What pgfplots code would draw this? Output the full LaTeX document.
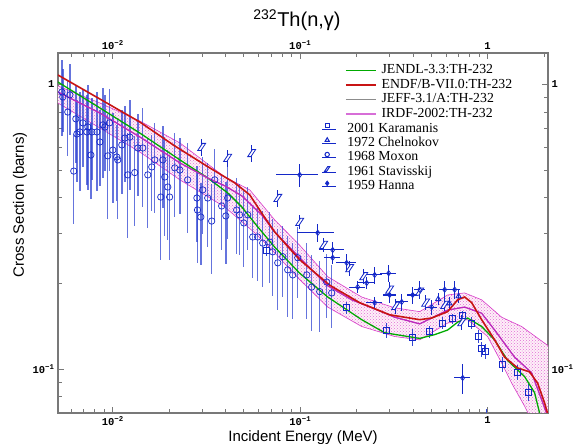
\documentclass[border=0pt]{standalone}
\usepackage{fontspec}
\setmainfont{Liberation Serif}
\setsansfont{Liberation Sans}
\setmonofont{Liberation Mono}
\usepackage{pgfplots}
\pgfplotsset{compat=1.18}
\usepackage{pgfplotstable}
\usepgfplotslibrary{fillbetween}
\usetikzlibrary{patterns}

\definecolor{jgreen}{RGB}{0,170,0}
\definecolor{ered}{RGB}{200,20,20}
\definecolor{jgrey}{RGB}{140,140,140}
\definecolor{irdf}{RGB}{190,40,190}
\definecolor{irdfl}{RGB}{215,110,215}
\definecolor{bandc}{RGB}{215,60,200}
\definecolor{dblue}{RGB}{20,40,200}
\definecolor{eblue}{RGB}{50,70,210}
\definecolor{axgray}{RGB}{120,120,120}

\pgfdeclareplotmark{stav}{%
  \pgfpathmoveto{\pgfpoint{-1.0\pgfplotmarksize}{-0.9\pgfplotmarksize}}%
  \pgfpathlineto{\pgfpoint{-0.2\pgfplotmarksize}{-0.9\pgfplotmarksize}}%
  \pgfpathlineto{\pgfpoint{1.0\pgfplotmarksize}{0.9\pgfplotmarksize}}%
  \pgfpathlineto{\pgfpoint{0.2\pgfplotmarksize}{0.9\pgfplotmarksize}}%
  \pgfpathclose\pgfusepathqfillstroke}

\newcommand\tl[1]{10\textsuperscript{#1}}

% evaluated curves
\pgfplotstableread{
E s
0.00509 1.080
0.00853 0.889
0.01393 0.738
0.0214 0.608
0.0329 0.509
0.0447 0.451
0.0538 0.409
0.0623 0.353
0.0731 0.303
0.0994 0.242
0.1436 0.197
0.2076 0.171
0.300 0.155
0.434 0.149
0.503 0.151
0.612 0.159
0.692 0.175
0.754 0.179
0.822 0.171
0.929 0.149
1.09 0.1265
1.232 0.110
1.445 0.1008
1.675 0.0976
1.848 0.0892
2.014 0.0759
2.14 0.066
}\endf

\pgfplotstableread{
E s
0.00509 1.02
0.00853 0.827
0.01393 0.675
0.0228 0.543
0.0321 0.469
0.0410 0.416
0.0488 0.371
0.0593 0.316
0.0731 0.268
0.0994 0.217
0.1402 0.179
0.2128 0.149
0.2823 0.134
0.434 0.128
0.5217 0.132
0.612 0.137
0.692 0.146
0.782 0.151
0.929 0.141
1.09 0.1265
1.279 0.107
1.575 0.094
1.781 0.0825
1.894 0.070
2.01 0.060
}\jendl

\pgfplotstableread{
E s
0.00509 0.941
0.00853 0.794
0.01393 0.654
0.0228 0.530
0.0321 0.469
0.0396 0.440
0.0488 0.406
0.0623 0.348
0.0731 0.303
0.0994 0.246
0.1402 0.196
0.1882 0.175
0.2591 0.161
0.319 0.152
0.434 0.144
0.612 0.161
0.754 0.165
0.929 0.157
1.09 0.137
1.393 0.110
1.717 0.097
1.941 0.078
2.06 0.070
2.14 0.064
}\irdf

\pgfplotstableread{
E s
0.00509 0.988
0.00853 0.861
0.01393 0.744
0.0228 0.623
0.0396 0.473
0.0538 0.426
0.0731 0.334
0.0994 0.272
0.1402 0.211
0.2128 0.179
0.319 0.164
0.434 0.159
0.612 0.182
0.754 0.185
0.929 0.175
1.188 0.152
1.518 0.141
2.09 0.121
2.2 0.118
}\bandup

\pgfplotstableread{
E s
0.00509 0.861
0.00853 0.703
0.01393 0.579
0.0228 0.462
0.0396 0.371
0.0572 0.301
0.0731 0.256
0.0994 0.206
0.1402 0.165
0.2128 0.141
0.319 0.130
0.434 0.1265
0.612 0.145
0.782 0.149
1.0 0.130
1.188 0.105
1.343 0.0892
1.575 0.0740
1.781 0.063
2.2 0.050
}\bandlo

% experimental data
\pgfplotstableread{
E s e
0.00535 0.941 0.30
0.00541 0.904 0.25
0.00575 0.800 0.30
0.00590 0.919 0.28
0.00619 0.496 0.35
0.00635 0.757 0.30
0.00643 0.670 0.32
0.00667 0.681 0.38
0.00692 0.733 0.30
0.00727 0.681 0.35
0.00736 0.709 0.40
0.00764 0.565 0.30
0.00773 0.681 0.32
0.00822 0.681 0.38
0.00853 0.628 0.30
0.00885 0.721 0.35
0.00907 0.709 0.30
0.00940 0.561 0.40
0.00960 0.733 0.32
0.0100 0.588 0.35
0.0105 0.556 0.30
0.01063 0.543 0.38
0.01117 0.613 0.33
0.01159 0.648 0.30
0.01202 0.481 0.40
0.01233 0.653 0.35
0.0131 0.490 0.35
0.0136 0.598 0.32
0.01445 0.598 0.38
0.01537 0.481 0.35
0.01614 0.513 0.30
0.01675 0.543 0.35
0.01803 0.402 0.40
0.01849 0.543 0.32
0.01894 0.473 0.38
0.01965 0.436 0.35
0.0201 0.402 0.40
0.0214 0.509 0.33
0.0228 0.500 0.30
0.0251 0.462 0.35
0.0281 0.399 0.30
0.0283 0.362 0.35
0.0295 0.342 0.32
0.0302 0.426 0.30
0.0321 0.399 0.33
0.0337 0.331 0.35
0.0350 0.462 0.28
0.0381 0.374 0.30
0.0401 0.345 0.32
0.0410 0.399 0.28
0.0458 0.362 0.30
0.0475 0.348 0.28
0.0500 0.326 0.30
0.0525 0.348 0.25
0.0558 0.291 0.28
0.0593 0.291 0.30
0.0631 0.277 0.30
0.0688 0.279 0.28
0.0713 0.258 0.30
0.0759 0.236 0.32
0.0807 0.248 0.28
0.0858 0.223 0.32
0.0912 0.214 0.30
0.0970 0.246 0.28
0.1084 0.214 0.30
0.1151 0.194 0.30
0.1271 0.187 0.28
0.1385 0.202 0.25
0.1473 0.185 0.25
}\moxon

\pgfplotstableread{
E s e
0.0298 0.603 0.07
0.0410 0.552 0.07
0.0551 0.574 0.07
0.0759 0.399 0.07
0.0994 0.329 0.06
0.1334 0.273 0.06
0.1836 0.226 0.06
0.2183 0.212 0.06
0.300 0.190 0.06
0.323 0.1665 0.06
0.434 0.187 0.06
0.467 0.171 0.06
0.590 0.168 0.06
0.727 0.146 0.06
}\stav

\pgfplotstableread{
E s e
0.545 0.176 0.05
0.625 0.170 0.05
0.700 0.180 0.05
}\chel

\pgfplotstableread{
E s ex ey
0.0994 0.481 0.25 0.09
0.124 0.301 0.22 0.07
0.149 0.262 0.15 0.07
0.149 0.246 0.10 0.05
0.177 0.236 0.12 0.07
0.2026 0.194 0.10 0.05
0.2263 0.2006 0.10 0.05
0.2496 0.214 0.10 0.07
0.2496 0.171 0.10 0.05
0.2965 0.217 0.10 0.07
0.300 0.182 0.08 0.06
0.348 0.172 0.08 0.07
0.398 0.182 0.07 0.07
0.434 0.190 0.07 0.07
0.503 0.165 0.07 0.06
0.590 0.190 0.07 0.07
0.667 0.190 0.07 0.07
0.736 0.093 0.10 0.12
}\hanna

\pgfplotstableread{
E s e
0.0663 0.262 0.05
0.177 0.164 0.05
0.289 0.137 0.06
0.398 0.129 0.07
0.490 0.135 0.05
0.575 0.145 0.05
0.651 0.150 0.04
0.736 0.154 0.04
0.822 0.145 0.05
0.895 0.130 0.05
0.929 0.1176 0.06
0.976 0.1155 0.06
0.985 0.058 0.25
1.202 0.104 0.06
1.445 0.0976 0.06
1.654 0.0830 0.07
}\kara

\begin{document}
\begin{tikzpicture}
\begin{axis}[
  name=main,
  scale only axis, width=490pt, height=360pt,
  xmode=log, ymode=log,
  xmin=0.0051, xmax=2.1, ymin=0.07, ymax=1.29,
  xtick={0.01,0.1,1}, xticklabels={\tl{−2},\tl{−1},1},
  ytick={0.1,1}, yticklabels={\tl{−1},1},
  tick label style={font=\ttfamily\bfseries\fontsize{10.5}{11}\selectfont},
  minor xtick={0.006,0.007,0.008,0.009,0.02,0.03,0.04,0.05,0.06,0.07,0.08,0.09,0.2,0.3,0.4,0.5,0.6,0.7,0.8,0.9,2},
  minor ytick={0.08,0.09,0.2,0.3,0.4,0.5,0.6,0.7,0.8,0.9},
  tick align=inside,
  major tick length=6pt, minor tick length=4pt,
  axis line style={axgray, line width=1.2pt},
  every tick/.style={axgray, line width=0.8pt},
  title={\textsuperscript{232}Th(n,γ)},
  title style={font=\sffamily\fontsize{20}{24}\selectfont, at={(axis description cs:0.5,1)}, anchor=base, yshift=20pt, xshift=-6pt},
  xlabel={Incident Energy (MeV)},
  xlabel style={font=\sffamily\fontsize{15}{18}\selectfont, at={(axis description cs:0.5,0)}, anchor=base, yshift=-29pt},
  ylabel={Cross Section (barns)},
  ylabel style={font=\sffamily\fontsize{15}{18}\selectfont, at={(axis description cs:-0.0694,0.578)}, anchor=base},
  legend style={at={(axis description cs:0.5857,0.971)}, anchor=north west, draw=none, fill=none,
    inner sep=0pt, outer sep=0pt, font=\fontsize{13.8}{13.8}\selectfont,
    nodes={inner sep=0pt, text height=10.5pt, text depth=3.9pt}, column sep=5pt, row sep=0pt},
  legend cell align=left,
  legend image code/.code={\draw[#1] (0pt,0pt) -- (30pt,0pt);},
]
% uncertainty band of IRDF-2002
\addplot[name path=up, bandc, line width=0.6pt, forget plot] table[x=E,y=s] {\bandup};
\addplot[name path=lo, bandc, line width=0.6pt, forget plot] table[x=E,y=s] {\bandlo};
\addplot[fill=magenta!6, draw=none, forget plot] fill between[of=up and lo];
\addplot[pattern=crosshatch dots, pattern color=bandc!75, draw=none, forget plot] fill between[of=up and lo];

% measurements
\addplot[forget plot, only marks, mark=o, mark size=3.2pt, mark options={fill=white, draw=dblue, line width=0.7pt},
  error bars/.cd, y dir=both, y explicit relative, error mark=none,
  error bar style={eblue, line width=1.4pt, opacity=0.75}]
  table[x=E, y=s, y error=e] {\moxon};
\addplot[forget plot, only marks, mark=stav, mark size=4pt, mark options={fill=white, draw=dblue, line width=0.8pt},
  error bars/.cd, y dir=both, y explicit relative, error mark=none,
  error bar style={dblue, line width=1.1pt}]
  table[x=E, y=s, y error=e] {\stav};
\addplot[forget plot, only marks, mark=triangle, mark size=3pt, mark options={fill=white, draw=dblue, line width=0.8pt},
  error bars/.cd, y dir=both, y explicit relative, error mark=none,
  error bar style={dblue, line width=1.1pt}]
  table[x=E, y=s, y error=e] {\chel};
\addplot[forget plot, only marks, mark=diamond, mark size=2.6pt, mark options={fill=white, draw=dblue, line width=0.8pt},
  error bars/.cd, x dir=both, x explicit relative, y dir=both, y explicit relative, error mark=none,
  error bar style={dblue, line width=1.1pt}]
  table[x=E, y=s, x error=ex, y error=ey] {\hanna};
\addplot[forget plot, only marks, mark=square, mark size=3pt, mark options={fill=white, draw=dblue, line width=0.8pt},
  error bars/.cd, y dir=both, y explicit relative, error mark=none,
  error bar style={eblue, line width=1.1pt}]
  table[x=E, y=s, y error=e] {\kara};

% evaluations
\addplot[forget plot, jgreen, line width=1.3pt] table[x=E,y=s] {\jendl};
\addplot[forget plot, jgrey, line width=0.6pt] table[x=E,y=s] {\irdf};
\addplot[forget plot, irdf, line width=1.3pt] table[x=E,y=s] {\irdf};
\addplot[forget plot, ered, line width=1.6pt] table[x=E,y=s] {\endf};

\addlegendimage{jgreen, line width=1.2pt}
\addlegendentry{JENDL-3.3:TH-232}
\addlegendimage{ered, line width=1.2pt}
\addlegendentry{ENDF/B-VII.0:TH-232}
\addlegendimage{jgrey, line width=1.2pt}
\addlegendentry{JEFF-3.1/A:TH-232}
\addlegendimage{irdfl, line width=1.6pt}
\addlegendentry{IRDF-2002:TH-232}
\end{axis}

\begin{axis}[
  scale only axis, width=490pt, height=360pt,
  xmode=log, ymode=log,
  xmin=0.0051, xmax=2.1, ymin=0.07, ymax=1.29,
  xtick={0.01,0.1,1}, xticklabels={\tl{−2},\tl{−1},1},
  ytick={0.1,1}, yticklabels={\tl{−1},1},
  tick label style={font=\ttfamily\bfseries\fontsize{10.5}{11}\selectfont},
  xticklabel pos=upper, yticklabel pos=right,
  axis line style={draw=none}, major tick length=0pt, minor tick length=0pt,
  legend style={at={(axis description cs:0.5388,0.8097)}, anchor=north west, draw=none, fill=none,
    inner sep=0pt, outer sep=0pt, font=\fontsize{13.8}{13.8}\selectfont,
    nodes={inner sep=0pt, text height=10.5pt, text depth=3.9pt}, column sep=11pt, row sep=0pt},
  legend cell align=left,
  legend image code/.code={\path (0pt,0pt) -- (14pt,0pt); \draw[#1] plot coordinates {(5pt,3pt)};},
]
\addplot[draw=none, forget plot] table[x=E,y=s] {\kara};
\addlegendimage{dblue, mark=square, mark size=2.2pt, mark options={line width=1pt}}
\addlegendentry{2001 Karamanis}
\addlegendimage{dblue, mark=triangle, mark size=2.4pt, mark options={line width=1pt}}
\addlegendentry{1972 Chelnokov}
\addlegendimage{dblue, mark=o, mark size=2.2pt, mark options={line width=1pt}}
\addlegendentry{1968 Moxon}
\addlegendimage{dblue, mark=stav, mark size=2.6pt, mark options={line width=1pt, fill=white}}
\addlegendentry{1961 Stavisskij}
\addlegendimage{dblue, mark=diamond*, mark size=2.4pt, mark options={line width=0.6pt}}
\addlegendentry{1959 Hanna}
\end{axis}
\pgfresetboundingbox
\path[use as bounding box] ([shift={(-58pt,-31pt)}]main.south west) rectangle ([shift={(30pt,53pt)}]main.north east);
\end{tikzpicture}
\end{document}
